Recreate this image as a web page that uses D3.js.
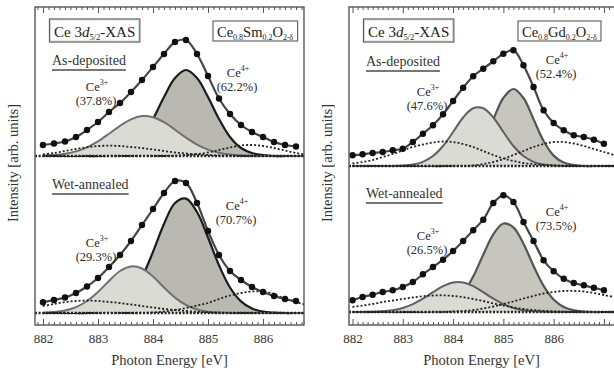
<!DOCTYPE html>
<html>
<head>
<meta charset="utf-8">
<script src="https://cdn.jsdelivr.net/npm/d3@7"></script>
<style>
  body { margin: 0; background: #fff; }
  svg { display: block; font-family: "Liberation Serif", "Times New Roman", serif; }
</style>
</head>
<body>
<svg id="chart" width="614" height="372"></svg>
<script>
// energy grids (eV)
const dotE = [882.0, 882.2, 882.4, 882.6, 882.8, 883.0, 883.2, 883.4, 883.6, 883.8, 884.0, 884.2, 884.4,
              884.6, 884.8, 885.0, 885.2, 885.4, 885.6, 885.8, 886.0, 886.2, 886.4, 886.6, 886.8, 887.0];
const compE = [882.0, 882.2, 882.4, 882.6, 882.8, 883.0, 883.2, 883.4, 883.6, 883.8, 884.0, 884.2, 884.4,
               884.6, 884.8, 885.0, 885.2, 885.4, 885.6, 885.8, 886.0, 886.2, 886.4, 886.6, 886.8, 887.0, 887.2];

// Ce0.8Sm0.2O2-d : as-deposited
const smAsDots = [11, 12.5, 14.5, 19, 26, 34, 44, 53, 64, 76, 89, 102, 114, 116, 102, 80, 57.5, 42, 31, 24, 19, 14, 11, 9.5];
const smAsCe3 = [0.3, 0.9, 2.2, 4.6, 8.7, 14.6, 22.2, 30.2, 36.7, 39.9, 38.8, 33.8, 26.3, 18.3, 11.4, 6.4, 3.2, 1.4, 0.5, 0.2, 0, 0, 0, 0, 0, 0, 0];
const smAsCe4 = [0, 0, 0, 0, 0, 0, 1, 3, 8, 19, 37, 59, 78, 86, 78, 59, 37, 19, 8, 3, 1, 0, 0, 0, 0, 0, 0];
const smAsBgL = [1.5, 3, 5, 7, 8.8, 10, 10.3, 10, 9, 8, 6.5, 5, 3.5, 2.5, 1.5, 1, 0.5, 0.2, 0, 0, 0, 0, 0, 0, 0, 0, 0];
const smAsBgR = [0, 0, 0, 0, 0, 0, 0, 0, 0, 0, 0, 0, 0.3, 1, 2, 3.5, 6, 8.5, 10.5, 11, 10, 8, 5.5, 3, 1.5, 0.7, 0.3];
// Ce0.8Sm0.2O2-d : wet-annealed
const smWetDots = [10.7, 13, 15.5, 20, 26.5, 35, 46, 58, 72, 88, 104, 120, 132, 130, 110, 82, 58, 42, 33, 26, 21, 17, 14, 12];
const smWetCe3 = [0.3, 0.9, 2.4, 5.8, 12, 21, 32, 42, 46.6, 44.5, 36.4, 25.5, 15.4, 8, 3.5, 1.3, 0.4, 0, 0, 0, 0, 0, 0, 0, 0, 0, 0];
const smWetCe4 = [0, 0, 0, 0, 0, 0.8, 2.6, 7.3, 17.5, 35.6, 61.2, 89, 110, 114.4, 101, 75.5, 47.7, 25.5, 11.6, 4.4, 1.4, 0.4, 0, 0, 0, 0, 0];
const smWetBgL = [7, 9, 11, 12, 12.5, 12, 11, 10, 8.5, 7, 5.5, 4, 3, 2, 1.2, 0.7, 0.3, 0, 0, 0, 0, 0, 0, 0, 0, 0, 0];
const smWetBgR = [0, 0, 0, 0, 0, 0, 0, 0, 0, 0, 0.5, 1.5, 3, 5, 7.5, 10, 14, 17.5, 20, 21.5, 21.5, 19, 14, 11, 8, 6, 4];

// Ce0.8Gd0.2O2-d : as-deposited
const gdAsDots = [10.7, 11.7, 13, 14, 15.7, 17.3, 24, 32.3, 40.7, 51.7, 65, 78.3, 89.7, 97.3, 104.7, 112.3, 115.7, 100.7, 79, 55.7, 43, 35.7, 30.7, 29, 26.3, 22.3];
const gdAsCe3 = [0, 0, 0, 0, 0, 0.4, 1.5, 4.2, 10, 20, 34, 48.5, 57.7, 57.7, 48.5, 34, 20, 10, 4.2, 1.5, 0.4, 0, 0, 0, 0, 0, 0];
const gdAsCe4 = [0, 0, 0, 0, 0, 0, 0, 0, 0, 0, 0.9, 3.4, 10.4, 25, 46.7, 68, 77, 68, 46.7, 25, 10.4, 3.4, 0.9, 0, 0, 0, 0];
const gdAsBgL = [2.5, 4, 6, 9, 12, 15.5, 19, 21.5, 23.5, 24.5, 24, 22, 19, 15, 11, 7.5, 5, 3, 2, 1, 0.5, 0.2, 0, 0, 0, 0, 0];
const gdAsBgR = [0, 0, 0, 0, 0, 0, 0, 0, 0, 0, 0, 0, 0.5, 2, 4, 7, 11, 15, 19, 22, 24, 24, 22.5, 20, 17, 14, 11];
// Ce0.8Gd0.2O2-d : wet-annealed
const gdWetDots = [11.7, 15, 17.3, 20, 21.7, 25, 30, 37.7, 45, 52.3, 61, 71, 81.7, 92.3, 109, 116.7, 110, 90, 71, 51.7, 40.7, 33.3, 29, 26.7, 24.3, 21.7];
const gdWetCe3 = [0, 0, 0.2, 0.7, 1.8, 4, 7.8, 13.3, 19.8, 25.8, 29.5, 29.5, 25.8, 19.8, 13.3, 7.8, 4, 1.8, 0.7, 0.2, 0, 0, 0, 0, 0, 0, 0];
const gdWetCe4 = [0, 0, 0, 0, 0, 0, 0, 0.2, 0.9, 3, 8.1, 18.5, 35.5, 57.3, 77.7, 88.5, 84.7, 68.2, 46.1, 26.2, 12.5, 5, 1.7, 0.5, 0, 0, 0];
const gdWetBgL = [5, 6.5, 8, 10, 11.5, 13, 14.5, 15.8, 16.5, 16.7, 16, 14.8, 13, 11, 8.5, 6.5, 4.5, 3, 2, 1.2, 0.6, 0.3, 0, 0, 0, 0, 0];
const gdWetBgR = [0, 0, 0, 0, 0, 0, 0, 0, 0, 0, 0.5, 1, 2, 3.5, 5.5, 8, 10.5, 13.5, 16, 18.5, 20, 21, 21, 20.5, 19, 17, 15];

// vertical offsets of the stacked spectra (arb. units) and labels
const smOffsets = [169, 12];
const gdOffsets = [159, 13];
const treatments = ["As-deposited", "Wet-annealed"];
const smCe3Pct = ["(37.8%)", "(29.3%)"];
const smCe4Pct = ["(62.2%)", "(70.7%)"];
const gdCe3Pct = ["(47.6%)", "(26.5%)"];
const gdCe4Pct = ["(52.4%)", "(73.5%)"];

const svg = d3.select("#chart");
const defs = svg.append("defs");
let clipCount = 0;

function clipRect(x0, x1) {
  const id = "clip" + (clipCount++);
  defs.append("clipPath").attr("id", id).append("rect")
    .attr("x", x0).attr("y", 0).attr("width", Math.max(0, x1 - x0)).attr("height", 372);
  return `url(#${id})`;
}

function ceLabel(g, cx, by, ion, pct) {
  const t = g.append("text").attr("x", cx).attr("y", by)
    .attr("text-anchor", "middle").attr("font-size", 12.5).attr("fill", "#2a2a2a");
  t.append("tspan").text("Ce");
  t.append("tspan").attr("dy", -6).attr("font-size", 8).text(ion);
  g.append("text").attr("x", cx - 1).attr("y", by + 14)
    .attr("text-anchor", "middle").attr("font-size", 12.5).attr("fill", "#2a2a2a").text(pct);
}

function drawSpectrum(g, x, y, s, cfg) {
  const off = s.offset;
  const comp = arr => compE.map((e, i) => [e, arr[i]]);
  const area = d3.area().x(d => x(d[0])).y0(y(off)).y1(d => y(off + d[1])).curve(d3.curveCatmullRom);
  const line = d3.line().x(d => x(d[0])).y(d => y(off + d[1])).curve(d3.curveCatmullRom);

  // Ce4+ first, Ce3+ painted over it
  g.append("path").attr("d", area(comp(s.ce4))).attr("fill", cfg.ce4Fill);
  g.append("path").attr("d", line(comp(s.ce4))).attr("fill", "none")
    .attr("stroke", cfg.ce4Stroke).attr("stroke-width", 2.2);
  g.append("path").attr("d", area(comp(s.ce3))).attr("fill", cfg.ce3Fill);
  g.append("path").attr("d", line(comp(s.ce3))).attr("fill", "none")
    .attr("stroke", cfg.ce3Stroke).attr("stroke-width", 2);

  // flat baseline + background humps (dotted)
  g.append("line").attr("x1", cfg.left).attr("x2", cfg.right)
    .attr("y1", y(off)).attr("y2", y(off))
    .attr("stroke", "#222").attr("stroke-width", 2.4).attr("stroke-dasharray", "2,1.6");
  [s.bgL, s.bgR].forEach(bg => {
    g.append("path").attr("d", line(comp(bg))).attr("fill", "none")
      .attr("stroke", "#222").attr("stroke-width", 1.8).attr("stroke-dasharray", "2,2");
  });

  const pts = s.dots.map((v, i) => [dotE[i], v]);
  g.append("path").attr("d", line(pts)).attr("fill", "none")
    .attr("stroke", "#454545").attr("stroke-width", 2.2);
  g.selectAll(null).data(pts).enter().append("circle")
    .attr("cx", d => x(d[0])).attr("cy", d => y(off + d[1])).attr("r", 3.2).attr("fill", "#111");
}

function drawPanel(cfg) {
  const x = d3.scaleLinear().domain(cfg.xDomain).range([cfg.left, cfg.right]);
  const y = d3.scaleLinear().domain([0, 318]).range([325, 7]);
  const g = svg.append("g");
  const plot = g.append("g").attr("clip-path", clipRect(cfg.left, cfg.right));

  cfg.spectra.forEach(s => drawSpectrum(plot, x, y, s, cfg));

  // frame
  g.append("rect").attr("x", cfg.left).attr("y", y(318)).attr("width", cfg.right - cfg.left)
    .attr("height", y(0) - y(318)).attr("fill", "none").attr("stroke", "#555").attr("stroke-width", 1.4);

  const minor = x.ticks(60).filter(v => Math.abs(v - Math.round(v)) > 1e-6);
  const major = x.ticks(5).filter(v => Number.isInteger(v));
  const labelled = major.filter(v => x(v) < 600);
  const axes = [
    [d3.axisBottom(x).tickValues(major).tickSizeInner(-6).tickSizeOuter(0)
      .tickPadding(9).tickFormat(v => labelled.includes(v) ? d3.format("d")(v) : ""), y(0)],
    [d3.axisBottom(x).tickValues(minor).tickSizeInner(-3).tickSizeOuter(0).tickFormat(""), y(0)],
    [d3.axisTop(x).tickValues(major).tickSizeInner(-6).tickSizeOuter(0).tickFormat(""), y(318)],
    [d3.axisTop(x).tickValues(minor).tickSizeInner(-3).tickSizeOuter(0).tickFormat(""), y(318)]
  ];
  axes.forEach(([ax, ty]) => {
    const a = g.append("g").attr("transform", `translate(0,${ty})`).call(ax);
    a.select(".domain").remove();
    a.selectAll("line").attr("stroke", "#555").attr("stroke-width", 1);
    a.selectAll("text").attr("font-family", "Liberation Serif, serif").attr("font-size", 13).attr("fill", "#333");
  });

  g.append("text").attr("x", (cfg.left + Math.min(cfg.right, 614)) / 2).attr("y", 365)
    .attr("text-anchor", "middle").attr("font-size", 14.5).attr("fill", "#333").text("Photon Energy [eV]");
  g.append("text").attr("transform", `translate(${cfg.left - 17},163) rotate(-90)`)
    .attr("text-anchor", "middle").attr("font-size", 14.5).attr("fill", "#333").text("Intensity [arb. units]");

  // boxed titles
  const boxes = g.append("g");
  const bt = g.append("text").attr("x", cfg.left + 19).attr("y", 37).attr("font-size", 15).attr("fill", "#222");
  bt.append("tspan").text("Ce 3");
  bt.append("tspan").attr("font-style", "italic").text("d");
  bt.append("tspan").attr("font-size", 8.5).attr("dy", 3).text("5/2");
  bt.append("tspan").attr("dy", -3).text("-XAS");
  const b1 = bt.node().getBBox();
  boxes.append("rect").attr("x", b1.x - 3.5).attr("y", 20).attr("width", b1.width + 7).attr("height", 21)
    .attr("fill", "#fff").attr("stroke", "#555").attr("stroke-width", 3.2);
  boxes.append("rect").attr("x", b1.x - 3.5).attr("y", 20).attr("width", b1.width + 7).attr("height", 21)
    .attr("fill", "#fff").attr("stroke", "#d8d8d8").attr("stroke-width", 1.1);

  const st = g.append("text").attr("x", cfg.sampleX).attr("y", 37).attr("font-size", 14.5).attr("fill", "#222");
  cfg.sample.forEach(([txt, sub], i) => {
    if (sub) st.append("tspan").attr("font-size", 8).attr("dy", 3).text(txt);
    else st.append("tspan").attr("dy", i ? -3 : 0).text(txt);
  });
  const b2 = st.node().getBBox();
  boxes.append("rect").attr("x", b2.x - 4).attr("y", 21).attr("width", b2.width + 8).attr("height", 20)
    .attr("fill", "#fff").attr("stroke", "#666").attr("stroke-width", 1.2);

  // treatment labels + percentages
  cfg.spectra.forEach((s, k) => {
    const tl = g.append("text").attr("x", cfg.left + 17).attr("y", cfg.treatY[k])
      .attr("font-size", 14).attr("fill", "#333").text(treatments[k]);
    const w = tl.node().getComputedTextLength();
    g.append("line").attr("x1", cfg.left + 17).attr("x2", cfg.left + 17 + w)
      .attr("y1", cfg.treatY[k] + 5).attr("y2", cfg.treatY[k] + 5)
      .attr("stroke", "#777").attr("stroke-width", 2);
    ceLabel(g, cfg.ce3Lab[k][0], cfg.ce3Lab[k][1], "3+", s.ce3Pct);
    ceLabel(g, cfg.ce4Lab[k][0], cfg.ce4Lab[k][1], "4+", s.ce4Pct);
  });
}

drawPanel({
  left: 35, right: 304, xDomain: [881.855, 886.745],
  ce3Fill: "#dbdbd6", ce4Fill: "#b9b9b1", ce3Stroke: "#707070", ce4Stroke: "#1c1c1c",
  sampleX: 217,
  sample: [["Ce"], ["0.8", 1], ["Sm"], ["0.2", 1], ["O"], ["2-\u03b4", 1]],
  treatY: [65, 189],
  ce3Lab: [[97, 91], [97, 247]], ce4Lab: [[238, 77], [237, 210]],
  spectra: [
    { offset: smOffsets[0], dots: smAsDots, ce3: smAsCe3, ce4: smAsCe4, bgL: smAsBgL, bgR: smAsBgR, ce3Pct: smCe3Pct[0], ce4Pct: smCe4Pct[0] },
    { offset: smOffsets[1], dots: smWetDots, ce3: smWetCe3, ce4: smWetCe4, bgL: smWetBgL, bgR: smWetBgR, ce3Pct: smCe3Pct[1], ce4Pct: smCe4Pct[1] }
  ]
});

drawPanel({
  left: 349, right: 615, xDomain: [881.93, 887.22],
  ce3Fill: "#dbdbd6", ce4Fill: "#c6c6bf", ce3Stroke: "#606060", ce4Stroke: "#555555",
  sampleX: 522,
  sample: [["Ce"], ["0.8", 1], ["Gd"], ["0.2", 1], ["O"], ["2-\u03b4", 1]],
  treatY: [66, 198],
  ce3Lab: [[428, 96], [428, 240]], ce4Lab: [[557, 64], [557, 216]],
  spectra: [
    { offset: gdOffsets[0], dots: gdAsDots, ce3: gdAsCe3, ce4: gdAsCe4, bgL: gdAsBgL, bgR: gdAsBgR, ce3Pct: gdCe3Pct[0], ce4Pct: gdCe4Pct[0] },
    { offset: gdOffsets[1], dots: gdWetDots, ce3: gdWetCe3, ce4: gdWetCe4, bgL: gdWetBgL, bgR: gdWetBgR, ce3Pct: gdCe3Pct[1], ce4Pct: gdCe4Pct[1] }
  ]
});
</script>
</body>
</html>
